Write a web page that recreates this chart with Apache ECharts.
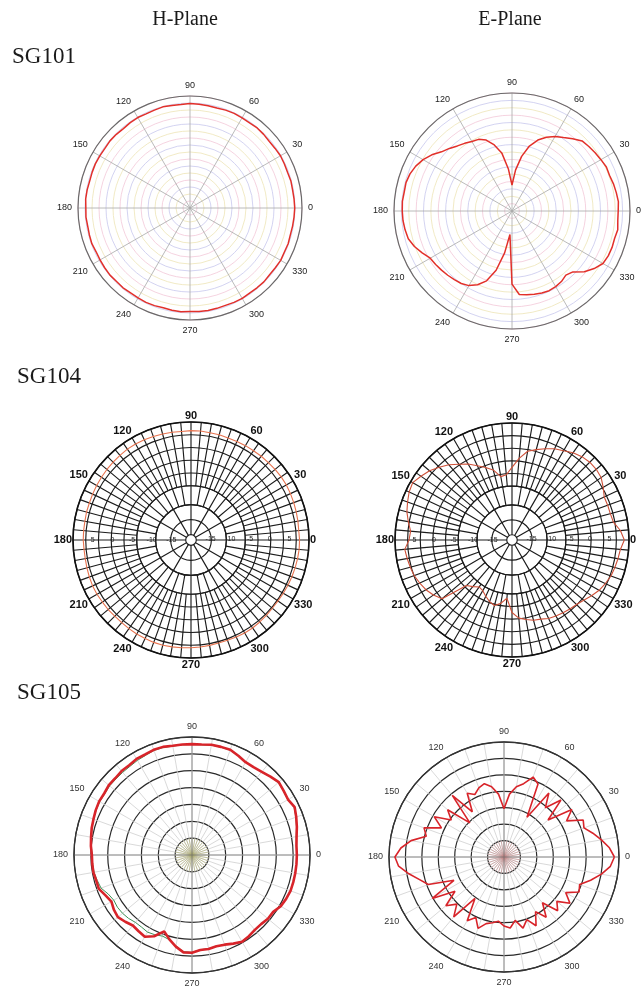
<!DOCTYPE html>
<html>
<head>
<meta charset="utf-8">
<script src="https://cdn.jsdelivr.net/npm/echarts@6/dist/echarts.min.js"></script>
<style>
  html, body { margin: 0; padding: 0; background: #fff; }
  #chart { width: 641px; height: 987px; }
</style>
</head>
<body>
<div id="chart"></div>
<script>
// angle grid of the measured patterns (deg)
const angles = [0,5,10,15,20,25,30,35,40,45,50,55,
  60,65,70,75,80,85,90,95,100,105,110,115,
  120,125,130,135,140,145,150,155,160,165,170,175,
  180,185,190,195,200,205,210,215,220,225,230,235,
  240,245,250,255,260,265,270,275,280,285,290,295,
  300,305,310,315,320,325,330,335,340,345,350,355];

// SG101 (dB, rings -40..0)
const sg101H = [-2.6,-2.7,-2.8,-2.7,-2.9,-2.8,-2.7,-2.9,-3.0,-2.8,-2.7,-2.9,
  -2.8,-2.7,-2.8,-3.0,-2.9,-2.8,-2.7,-2.9,-2.8,-2.6,-2.8,-2.9,
  -2.7,-2.8,-3.0,-2.8,-2.7,-2.9,-2.8,-2.7,-2.8,-2.9,-2.7,-2.6,
  -2.8,-2.7,-2.9,-2.8,-2.7,-3.0,-2.9,-2.8,-2.7,-2.9,-2.8,-3.0,
  -2.9,-2.8,-2.9,-3.1,-2.9,-2.8,-3.0,-2.9,-2.8,-2.9,-3.0,-2.8,
  -2.7,-2.9,-2.8,-2.7,-2.9,-2.8,-2.6,-2.8,-2.7,-2.9,-2.8,-2.7];
const sg101E = [-4.0,-3.8,-4.1,-4.4,-4.8,-4.7,-5.2,-5.6,-6.0,-6.4,-8.0,-9.6,
  -10.8,-12.4,-14.4,-17.2,-21.2,-26.0,-31.2,-25.6,-20.0,-16.8,-14.4,-13.2,
  -12.8,-12.0,-11.2,-10.0,-8.8,-6.8,-5.2,-4.0,-3.2,-2.8,-2.9,-2.7,
  -2.8,-2.9,-3.2,-3.6,-4.8,-6.4,-8.0,-8.4,-8.8,-9.2,-9.6,-10.0,
  -10.8,-12.4,-14.8,-19.2,-25.6,-32.0,-15.2,-11.6,-11.2,-10.8,-10.4,-10.2,
  -10.4,-10.8,-11.6,-10.8,-8.0,-6.0,-4.4,-4.0,-3.9,-4.0,-3.6,-4.0];

// SG104 (dB, axis -20..10)
const sg104H = [7.6,7.5,7.6,7.7,7.8,7.9,8.0,8.0,7.9,7.8,7.8,7.7,
  7.7,7.6,7.6,7.7,7.7,7.8,7.8,7.7,7.8,7.9,8.0,8.1,
  8.2,8.2,8.1,8.0,7.9,7.8,7.7,7.6,7.5,7.5,7.4,7.4,
  7.4,7.3,7.3,7.4,7.5,7.6,7.6,7.5,7.5,7.4,7.4,7.5,
  7.6,7.6,7.7,7.7,7.6,7.5,7.4,7.3,7.2,7.1,7.1,7.2,
  7.3,7.3,7.2,7.1,7.0,7.0,7.1,7.2,7.3,7.4,7.5,7.6];
const sg104E = [8.8,7.9,6.4,6.1,6.1,6.1,7.0,7.9,8.2,8.2,7.9,7.3,
  6.4,5.8,4.9,4.0,3.1,1.0,-1.4,-3.2,-3.5,-1.4,-0.2,1.0,
  2.5,3.7,5.2,6.4,7.6,8.5,9.4,9.1,8.5,7.9,7.0,6.1,
  6.4,7.6,7.3,7.0,6.7,6.1,5.5,4.6,3.4,-3.5,-4.4,-5.3,
  -5.0,-4.1,-3.2,-2.6,-3.5,-5.0,-1.4,0.1,0.7,1.3,1.6,2.2,
  2.5,2.8,3.1,3.4,4.0,4.9,5.8,6.4,7.0,7.3,7.6,7.9];
const sg104Ticks = [-15, -10, -5, 0, 5];

// SG105 (dB, rings -35..0)
const sg105H = [-3.9,-3.9,-3.5,-2.8,-2.1,-1.4,-2.1,-1.8,-1.4,-2.1,-2.8,-3.2,
  -3.2,-2.5,-1.8,-1.8,-1.8,-2.1,-2.1,-2.1,-2.1,-1.8,-1.8,-2.1,
  -2.1,-2.5,-2.5,-2.8,-2.8,-3.2,-3.2,-3.5,-3.9,-4.2,-4.6,-4.9,
  -5.3,-5.3,-5.3,-5.6,-5.6,-6.7,-7.4,-6.7,-6.3,-7.0,-7.7,-7.4,
  -7.0,-8.4,-10.9,-9.1,-7.4,-6.0,-6.0,-6.7,-6.7,-7.0,-6.7,-6.0,
  -5.3,-5.6,-6.0,-6.0,-5.6,-5.6,-4.6,-4.2,-3.9,-3.9,-3.9,-3.9];
const sg105Hb = [-3.9,-3.9,-3.6,-2.9,-2.2,-1.6,-2.2,-1.9,-1.6,-2.2,-2.9,-3.2,
  -3.2,-2.6,-1.9,-1.9,-1.9,-2.2,-2.2,-2.2,-2.2,-2.0,-2.0,-2.4,
  -2.6,-2.9,-3.0,-3.1,-3.1,-3.4,-3.4,-3.6,-3.9,-4.3,-4.7,-5.0,
  -5.4,-5.4,-5.5,-5.9,-6.3,-7.6,-8.2,-8.0,-8.1,-8.4,-8.9,-8.9,
  -8.6,-8.9,-9.4,-9.0,-7.6,-6.2,-6.1,-6.8,-6.8,-7.0,-6.7,-6.0,
  -5.4,-5.7,-6.1,-6.1,-5.7,-5.6,-4.6,-4.2,-3.9,-3.9,-3.9,-3.9];
const sg105E = [-1.4,-2.8,-4.9,-7.0,-9.1,-8.4,-13.0,-9.8,-17.5,-10.5,-15.4,-11.2,
  -21.0,-10.5,-9.1,-11.9,-13.3,-15.8,-20.3,-15.8,-13.3,-11.9,-12.6,-14.0,
  -12.6,-18.2,-10.5,-20.3,-12.6,-15.4,-10.5,-14.0,-9.1,-10.5,-6.3,-3.5,
  -1.8,-2.8,-5.6,-8.4,-10.5,-18.2,-9.8,-16.8,-11.9,-14.7,-11.2,-19.6,
  -12.6,-14.7,-11.9,-14.0,-14.7,-15.4,-14.0,-13.3,-15.4,-12.6,-14.7,-11.9,
  -15.8,-12.6,-16.8,-11.9,-14.0,-10.5,-13.3,-9.8,-10.5,-7.7,-4.9,-2.5];

function pairs(vals) {
  const d = vals.map((v, i) => [v, angles[i]]);
  d.push([vals[0], 360]);
  return d;
}

const polar = [], angleAxis = [], radiusAxis = [], series = [];
const off = { show: false };

function addPolar(cx, cy, r0, r1, ang, rad) {
  const idx = polar.length;
  polar.push({ center: [cx, cy], radius: [r0, r1] });
  angleAxis.push(Object.assign({
    polarIndex: idx, type: 'value', min: 0, max: 360, startAngle: 0, clockwise: false,
    axisLine: off, axisTick: off, axisLabel: off, splitLine: off, silent: true
  }, ang));
  radiusAxis.push(Object.assign({
    polarIndex: idx, type: 'value', min: 0, max: 1, interval: 1,
    axisLine: off, axisTick: off, axisLabel: off, splitLine: off, silent: true
  }, rad));
  return idx;
}

function angleLabel(size, color, margin, weight) {
  return {
    show: true, fontSize: size, color: color, margin: margin, fontWeight: weight || 'normal',
    fontFamily: 'Liberation Sans, Arial, sans-serif',
    formatter: v => (v === 360 || v % 30 !== 0 ? '' : String(v))
  };
}

function addLine(p, vals, color, width, z) {
  series.push({
    type: 'line', coordinateSystem: 'polar', polarIndex: p, data: pairs(vals),
    showSymbol: false, smooth: false, silent: true, z: z || 5,
    lineStyle: { color: color, width: width }
  });
}

// ---- SG101: pastel rings, spokes every 30 deg
function sg101(cx, cy, R, vals) {
  const p = addPolar(cx, cy, 0, R,
    { interval: 30, axisLine: { show: true, lineStyle: { color: '#6a6a6a', width: 1.2 } },
      axisLabel: angleLabel(9, '#222', 6),
      splitLine: { show: true, lineStyle: { color: '#a8a8a8', width: 0.8 } } },
    { min: -40, max: 0, interval: 2.5,
      splitLine: { show: true, lineStyle: { color: ['#c8c8ee', '#f2c8d8', '#eee4b6'], width: 0.8 } } });
  addLine(p, vals, '#e2302a', 1.5);
}

// ---- SG104: black grid, denser spokes outside, dB labels on horizontal
function sg104(cx, cy, R, vals, color) {
  const ls = { color: '#1c1c1c', width: 1.15 };
  addPolar(cx, cy, 0.46 * R, R, { interval: 5, splitLine: { show: true, lineStyle: ls } },
    { min: 0, max: 5, interval: 1, splitLine: { show: true, lineStyle: ls } });
  addPolar(cx, cy, 0.30 * R, 0.46 * R, { interval: 10, splitLine: { show: true, lineStyle: ls } },
    { min: 0, max: 1, interval: 1, splitLine: { show: true, lineStyle: ls } });
  addPolar(cx, cy, 0.045 * R, 0.30 * R, { interval: 30, splitLine: { show: true, lineStyle: ls } },
    { min: 0, max: 2, interval: 1, splitLine: { show: true, lineStyle: ls } });
  const rl = {
    show: true, fontSize: 7, color: '#222', margin: -3,
    formatter: v => (sg104Ticks.indexOf(v) >= 0 ? String(v) : '')
  };
  const p = addPolar(cx, cy, 0, R,
    { interval: 30, axisLine: { show: true, lineStyle: { color: '#111', width: 1.6 } },
      axisLabel: angleLabel(11, '#111', 1, 'bold') },
    { min: -20, max: 10, interval: 5, axisLabel: rl });
  addPolar(cx, cy, 0, R, { startAngle: 180, interval: 30 },
    { min: -20, max: 10, interval: 5, axisLabel: rl });
  addLine(p, vals, color, 1.1);
}

// ---- SG105: 7 black rings, light spokes every 10 deg, small dense centre
function sg105(cx, cy, R, hub) {
  const p = addPolar(cx, cy, 0, R,
    { interval: 10, axisLine: { show: true, lineStyle: { color: '#333', width: 1.3 } },
      axisLabel: angleLabel(9, '#333', 6),
      splitLine: { show: true, lineStyle: { color: '#cfcfcf', width: 0.8 } } },
    { min: -35, max: 0, interval: 5, splitLine: { show: true, lineStyle: { color: '#2a2a2a', width: 1.2 } } });
  addPolar(cx, cy, 0, R / 7, { interval: 10, splitLine: { show: true, lineStyle: { color: hub, width: 0.5 } } }, {});
  addPolar(cx, cy, 0, R, { interval: 90, splitLine: { show: true, lineStyle: { color: '#777', width: 0.8 } } }, {});
  return p;
}

sg101(190, 208, 112, sg101H);
sg101(512, 211, 118, sg101E);
sg104(191, 540, 118, sg104H, '#e8734f');
sg104(512, 540, 117, sg104E, '#cf5038');
const p5 = sg105(192, 855, 118, '#a6a45e');
addLine(p5, sg105Hb, '#3d8f55', 1, 4);
addLine(p5, sg105H, '#d8242a', 2.6, 5);
const p6 = sg105(504, 857, 115, '#c07a7a');
addLine(p6, sg105E, '#d8242a', 1.6, 5);

const serif = '"Liberation Serif", "Times New Roman", serif';
function txt(x, y, s, size, align) {
  return { type: 'text', x: x, y: y, silent: true,
    style: { text: s, font: size + 'px ' + serif, fill: '#1a1a1a', textAlign: align, textVerticalAlign: 'middle' } };
}

const chart = echarts.init(document.getElementById('chart'));
chart.setOption({
  animation: false,
  backgroundColor: '#fff',
  polar: polar,
  angleAxis: angleAxis,
  radiusAxis: radiusAxis,
  series: series,
  graphic: [
    txt(185, 20, 'H-Plane', 20, 'center'),
    txt(510, 20, 'E-Plane', 20, 'center'),
    txt(12, 57, 'SG101', 23, 'left'),
    txt(17, 377, 'SG104', 23, 'left'),
    txt(17, 693, 'SG105', 23, 'left')
  ]
});
</script>
</body>
</html>
